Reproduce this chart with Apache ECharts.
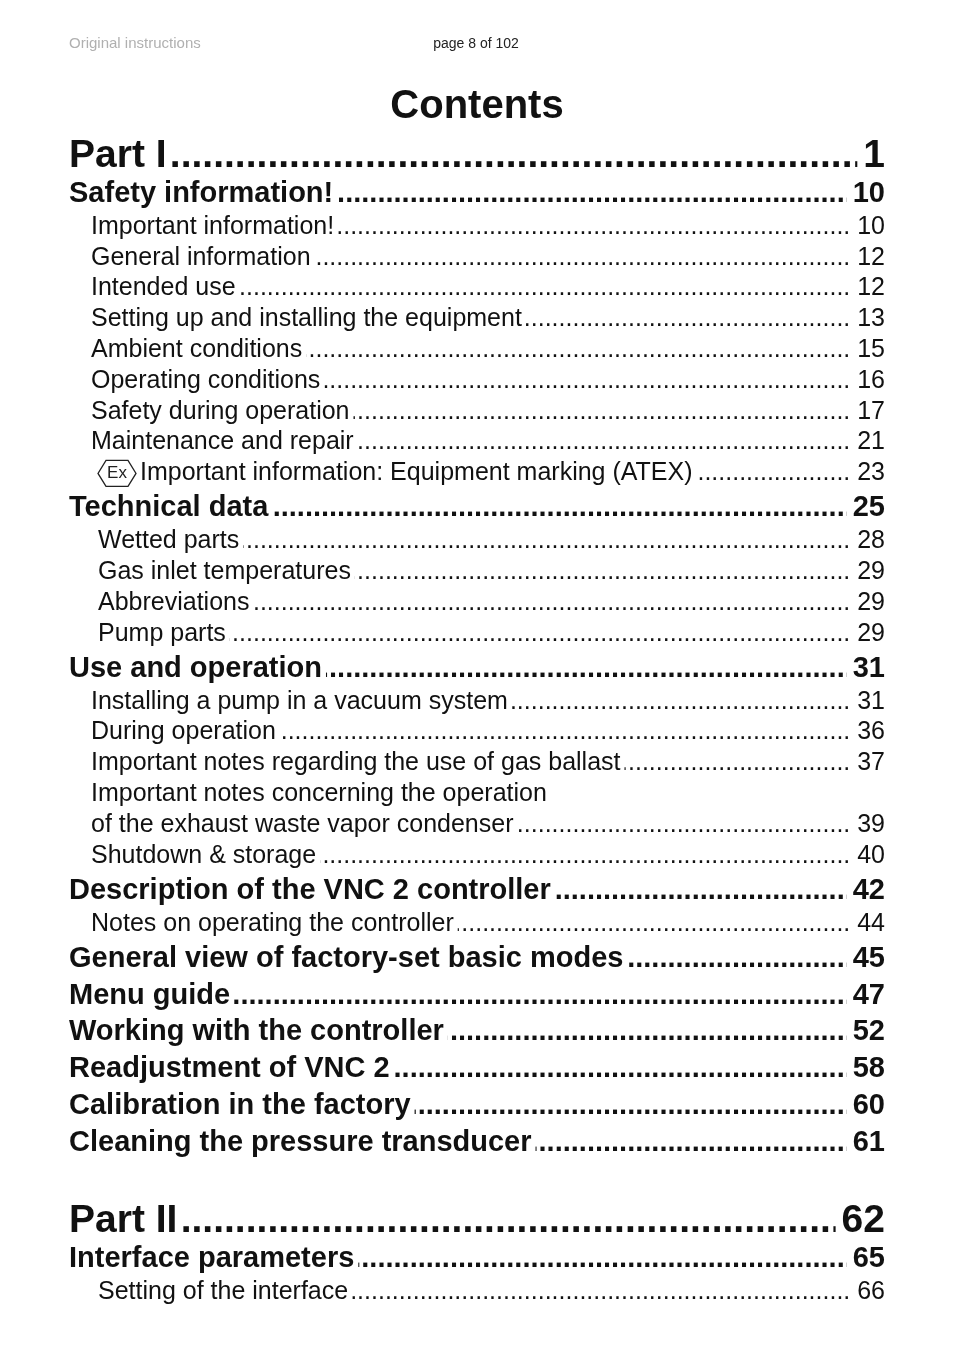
<!DOCTYPE html>
<html><head><meta charset="utf-8">
<script src="https://cdn.jsdelivr.net/npm/echarts@6/dist/echarts.min.js"></script>
<style>html,body{margin:0;background:#fff}#c{width:954px;height:1350px}</style>
</head><body><div id="c"></div>
<script>
// table of contents data: title, page, level (0 part, 1 section, 2 item), extra indent flag
var titles = [
  'Part I', 'Safety information!', 'Important information!', 'General information', 'Intended use',
  'Setting up and installing the equipment', 'Ambient conditions', 'Operating conditions',
  'Safety during operation', 'Maintenance and repair', 'Important information: Equipment marking (ATEX)',
  'Technical data', 'Wetted parts', 'Gas inlet temperatures', 'Abbreviations', 'Pump parts',
  'Use and operation', 'Installing a pump in a vacuum system', 'During operation',
  'Important notes regarding the use of gas ballast', 'Important notes concerning the operation',
  'of the exhaust waste vapor condenser', 'Shutdown & storage',
  'Description of the VNC 2 controller', 'Notes on operating the controller',
  'General view of factory-set basic modes', 'Menu guide', 'Working with the controller',
  'Readjustment of VNC 2', 'Calibration in the factory', 'Cleaning the pressure transducer',
  'Part II', 'Interface parameters', 'Setting of the interface'
];
var pages = [
  '1', '10', '10', '12', '12', '13', '15', '16', '17', '21', '23',
  '25', '28', '29', '29', '29',
  '31', '31', '36', '37', '', '39', '40',
  '42', '44', '45', '47', '52', '58', '60', '61',
  '62', '65', '66'
];
var levels = [0,1,2,2,2,2,2,2,2,2,2, 1,2,2,2,2, 1,2,2,2,2,2,2, 1,2, 1,1,1,1,1,1, 0,1,2];
var subIndent = [0,0,0,0,0,0,0,0,0,0,1, 0,1,1,1,1, 0,0,0,0,0,0,0, 0,0, 0,0,0,0,0,0, 0,0,1];

var chart = echarts.init(document.getElementById('c'));
var L = 69, R = 885, FONT = '"Liberation Sans", Arial, sans-serif';
var gap = function (prev, cur) {
  if (cur === 0) return 78;
  if (prev === 0) return 38;
  if (cur === 1) return prev === 1 ? 36.8 : 35;
  return prev === 1 ? 33 : 30.8;
};
var sizes = [39, 29, 25];
var weights = ['bold', 'bold', 'normal'];
var dots = new Array(260).join('.');
var g = [
  {type: 'text', left: L, top: 36, style: {text: 'Original instructions', fill: '#b0b0b0', font: '15px ' + FONT}},
  {type: 'text', x: 476, y: 44, style: {text: 'page 8 of 102', fill: '#222', font: '14px ' + FONT, textAlign: 'center', textVerticalAlign: 'middle'}},
  {type: 'text', x: 477, y: 107, style: {text: 'Contents', fill: '#111', font: 'bold 40px ' + FONT, textAlign: 'center', textVerticalAlign: 'middle'}}
];
var y = 78, prev = 0;
titles.forEach(function (t, i) {
  var lv = levels[i];
  y += gap(prev, lv); prev = lv;
  var f = weights[lv] + ' ' + sizes[lv] + 'px ' + FONT;
  var x = lv === 2 ? 91 + (subIndent[i] ? 7 : 0) : L;
  if (pages[i] !== '') {
    g.push({type: 'text', z: 5, x: R, y: y, style: {text: dots, fill: '#111', font: f, textAlign: 'right', textVerticalAlign: 'middle'}});
    g.push({type: 'rect', z: 6, shape: {x: 0, y: y - 25, width: x + 2, height: 50}, style: {fill: '#fff'}});
    g.push({type: 'text', z: 10, x: R, y: y, style: {text: pages[i], fill: '#111', font: f, textAlign: 'right', textVerticalAlign: 'middle',
      backgroundColor: '#fff', padding: [2, 0, 2, 6]}});
  }
  if (t === 'Important information: Equipment marking (ATEX)') {
    g.push({type: 'polygon', z: 20, shape: {points: [[x + 8, y - 13], [x + 30, y - 13], [x + 38, y], [x + 30, y + 13], [x + 8, y + 13], [x, y]]},
      style: {fill: '#fff', stroke: '#222', lineWidth: 1.3}});
    g.push({type: 'text', z: 21, x: x + 19, y: y, style: {text: 'Ex', fill: '#222', font: '17px ' + FONT, textAlign: 'center', textVerticalAlign: 'middle'}});
    g.push({type: 'rect', z: 9, shape: {x: x, y: y - 16, width: 42, height: 32}, style: {fill: '#fff'}});
    x += 42;
  }
  g.push({type: 'text', z: 10, x: x, y: y, style: {text: t, fill: '#111', font: f, textAlign: 'left', textVerticalAlign: 'middle',
    backgroundColor: '#fff', padding: [2, 4, 2, 0]}});
});
chart.setOption({backgroundColor: '#fff', graphic: g});
</script></body></html>
